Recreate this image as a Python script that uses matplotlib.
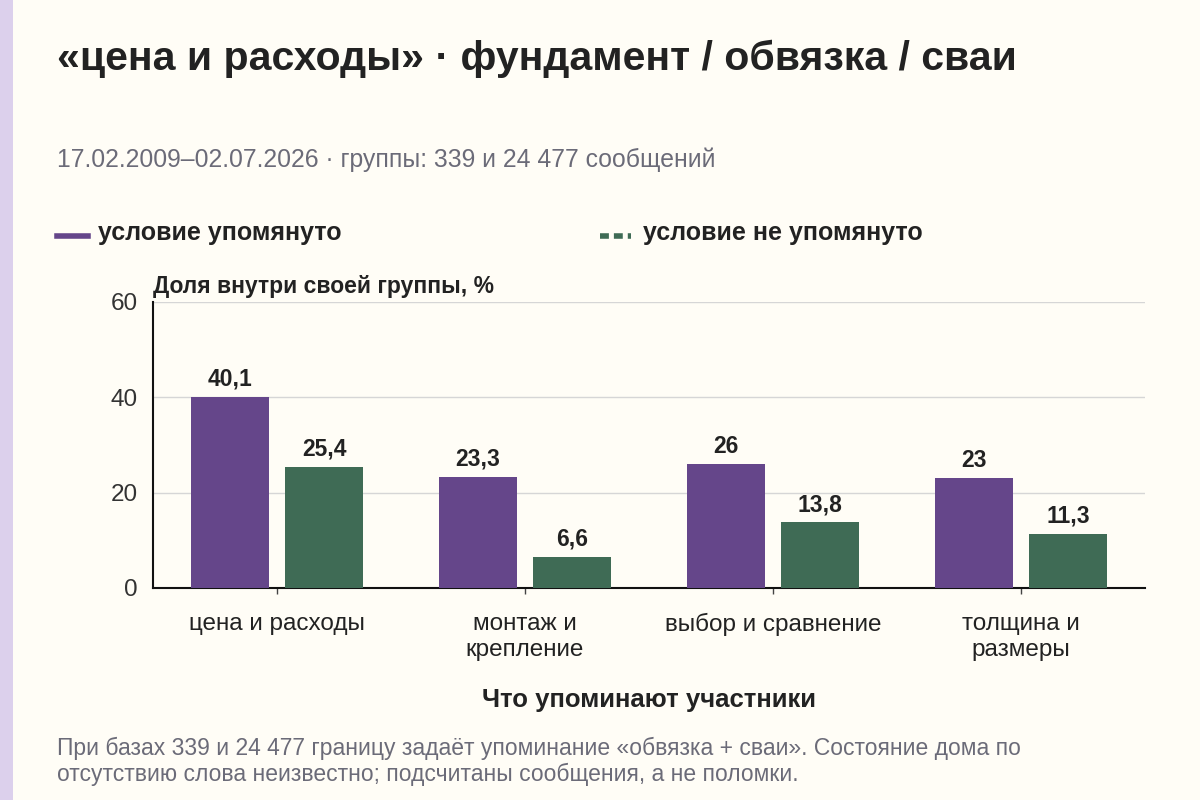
import matplotlib
matplotlib.use("Agg")
import matplotlib.pyplot as plt
import numpy as np
from matplotlib.lines import Line2D
from matplotlib.patches import Rectangle

plt.rcParams['font.family'] = ['Liberation Sans', 'DejaVu Sans']

categories = ["цена и расходы", "монтаж и\nкрепление", "выбор и сравнение", "толщина и\nразмеры"]
mentioned = [40.1, 23.3, 26.0, 23.0]
not_mentioned = [25.4, 6.6, 13.8, 11.3]
labels_mentioned = ["40,1", "23,3", "26", "23"]
labels_not = ["25,4", "6,6", "13,8", "11,3"]
yticks = [0, 20, 40, 60]

BG = "#FFFDF6"
PURPLE = "#65468A"
GREEN = "#3F6B55"
TEXT = "#222222"
GRAY = "#6B6B78"

fig = plt.figure(figsize=(12, 8), dpi=100, facecolor=BG)
fig.patches.append(Rectangle((0, 0), 13/1200, 1, transform=fig.transFigure,
                             facecolor="#DCD0EC", edgecolor="none", zorder=0))

ax = fig.add_axes([153/1200, 1 - 588/800, (1145-153)/1200, (588-302)/800])
ax.set_facecolor(BG)
x = np.arange(len(categories))
w = 0.315
off = 0.19
b1 = ax.bar(x - off, mentioned, w, color=PURPLE, zorder=3)
b2 = ax.bar(x + off, not_mentioned, w, color=GREEN, zorder=3)
for rect, lab in zip(b1, labels_mentioned):
    ax.text(rect.get_x() + rect.get_width()/2, rect.get_height() + 1.3, lab,
            ha='center', va='bottom', fontsize=16.5, fontweight='bold', color=TEXT)
for rect, lab in zip(b2, labels_not):
    ax.text(rect.get_x() + rect.get_width()/2, rect.get_height() + 1.3, lab,
            ha='center', va='bottom', fontsize=16.5, fontweight='bold', color=TEXT)

ax.set_xlim(-0.5, 3.5)
ax.set_ylim(0, 60)
ax.set_yticks(yticks)
ax.set_yticklabels([str(t) for t in yticks], fontsize=17.5, color="#333333")
ax.set_xticks(x)
ax.set_xticklabels(categories, fontsize=17.5, color=TEXT, linespacing=1.25, va='top')
ax.tick_params(axis='y', length=0, pad=11)
ax.tick_params(axis='x', length=4, width=1, color="#444444", pad=14)
ax.grid(axis='y', color="#D6D6D6", linewidth=1, zorder=0)
for s in ['top', 'right']:
    ax.spines[s].set_visible(False)
ax.spines['left'].set_color("#111111")
ax.spines['bottom'].set_color("#111111")
ax.spines['left'].set_linewidth(1.5)
ax.spines['bottom'].set_linewidth(1.5)

ax.text(0, 1.015, "Доля внутри своей группы, %", transform=ax.transAxes,
        ha='left', va='bottom', fontsize=16.5, fontweight='bold', color=TEXT)

fig.text(57/1200, 1 - 59/800, "«цена и расходы» · фундамент / обвязка / сваи",
         ha='left', va='center', fontsize=29.5, fontweight='bold', color=TEXT)
fig.text(57/1200, 1 - 160/800, "17.02.2009–02.07.2026 · группы: 339 и 24 477 сообщений",
         ha='left', va='center', fontsize=17.8, color=GRAY)

# legend
fig.add_artist(Line2D([57/1200, 88/1200], [1 - 236/800]*2, color=PURPLE, lw=4,
                      transform=fig.transFigure))
fig.text(98/1200, 1 - 233/800, "условие упомянуто", ha='left', va='center',
         fontsize=18, fontweight='bold', color=TEXT)
fig.add_artist(Line2D([600/1200, 631/1200], [1 - 236/800]*2, color=GREEN, lw=4,
                      linestyle=(0, (1.6, 0.9)), transform=fig.transFigure))
fig.text(643/1200, 1 - 233/800, "условие не упомянуто", ha='left', va='center',
         fontsize=18, fontweight='bold', color=TEXT)

fig.text(649/1200, 1 - 700/800, "Что упоминают участники", ha='center', va='center',
         fontsize=18.5, fontweight='bold', color=TEXT)

fig.text(57/1200, 1 - 761/800,
         "При базах 339 и 24 477 границу задаёт упоминание «обвязка + сваи». Состояние дома по\n"
         "отсутствию слова неизвестно; подсчитаны сообщения, а не поломки.",
         ha='left', va='center', fontsize=16.5, color=GRAY, linespacing=1.15)

fig.savefig("out.png", dpi=100, facecolor=BG)
